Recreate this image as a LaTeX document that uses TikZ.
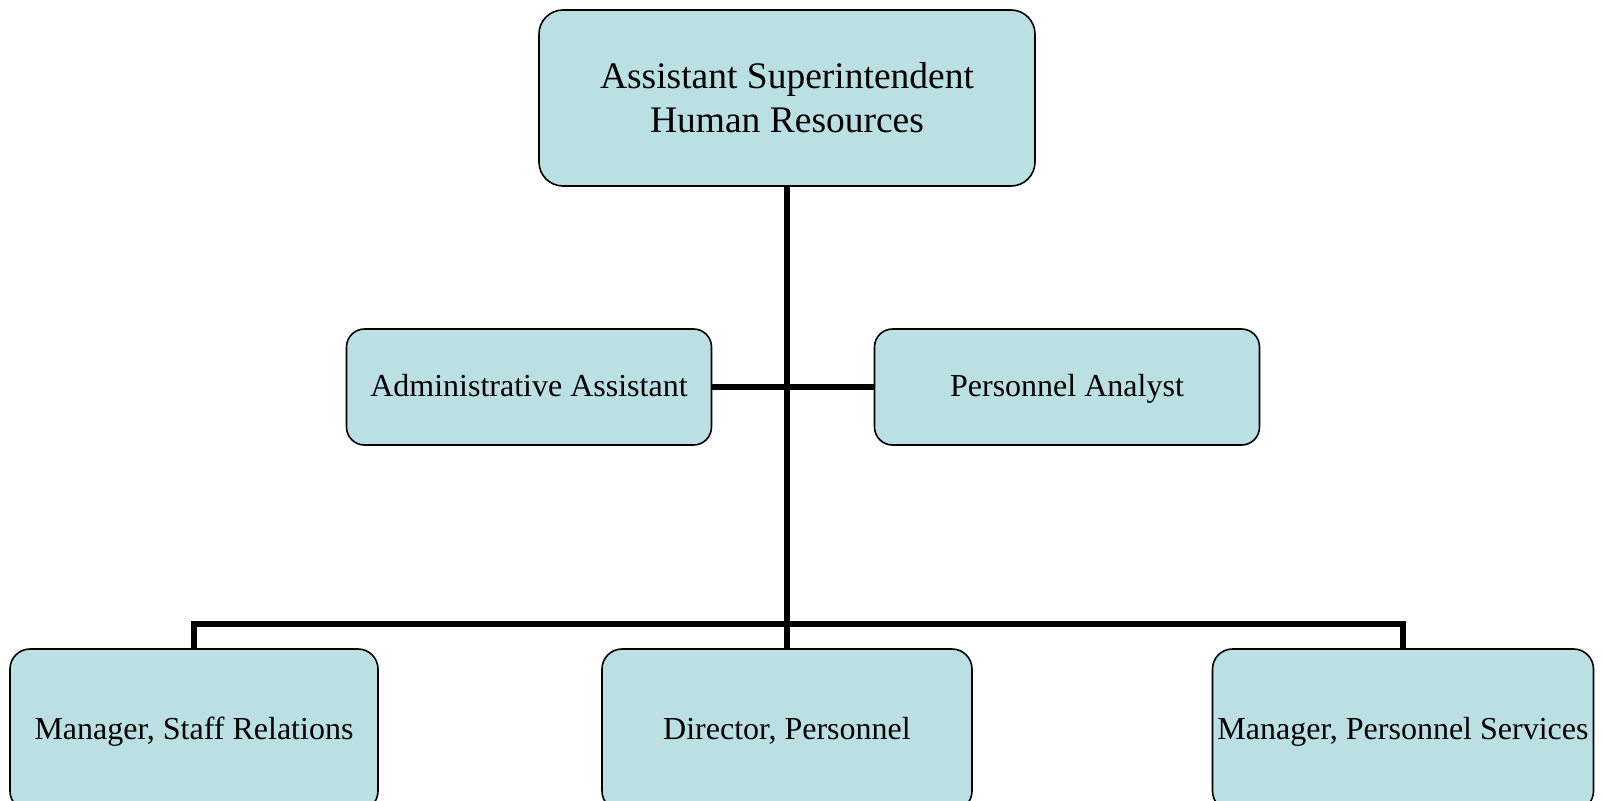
\documentclass[tikz,border=0pt]{standalone}
\usepackage{fontspec}
\setmainfont{Liberation Serif}
\definecolor{boxfill}{HTML}{BBE0E3}
\begin{document}
\begin{tikzpicture}[x=1pt,y=-1pt,
  orgbox/.style={draw=black, line width=1.6pt, fill=boxfill, rounded corners=20pt, inner sep=0pt, align=center, font=\fontsize{32}{36}\selectfont},
  onel/.style={text height=22pt, text depth=4pt},
  link/.style={line width=5.5pt, draw=black}]
\useasboundingbox (0,0) rectangle (1602,800);
\begin{scope}
\clip (0,0) rectangle (1602,800);
\node[orgbox, minimum width=496pt, minimum height=176pt, rounded corners=24pt, font=\fontsize{37.5}{44}\selectfont] (top) at (787,98) {Assistant Superintendent\\Human Resources};
\node[orgbox, onel, minimum width=365pt, minimum height=116pt, rounded corners=18pt] (admin) at (529,387) {Administrative Assistant};
\node[orgbox, onel, minimum width=385pt, minimum height=116pt, rounded corners=18pt] (analyst) at (1067,387) {Personnel Analyst};
\node[orgbox, onel, minimum width=368pt, minimum height=162pt] (sr) at (194,730) {Manager, Staff Relations};
\node[orgbox, onel, minimum width=370pt, minimum height=162pt] (dir) at (787,730) {Director, Personnel};
\node[orgbox, onel, minimum width=381pt, minimum height=162pt] (ps) at (1403,730) {Manager, Personnel Services};
\coordinate (bus) at (787,624);
\draw[link] (admin.east) -- (analyst.west);
\draw[link] (top.south -| dir.north) -- (dir.north);
\draw[link] (sr.north) |- (bus) -| (ps.north);
\end{scope}
\end{tikzpicture}
\end{document}
